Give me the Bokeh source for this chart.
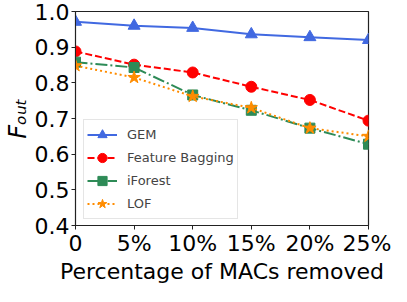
from bokeh.plotting import figure
from bokeh.models import Legend, LegendItem, FixedTicker
from bokeh.embed import file_html
from bokeh.resources import INLINE

x_vals = [0, 5, 10, 15, 20, 25]
x_labels = ["0", "5%", "10%", "15%", "20%", "25%"]
gem = [0.971, 0.960, 0.954, 0.936, 0.928, 0.920]
feature_bagging = [0.888, 0.851, 0.829, 0.789, 0.752, 0.694]
iforest = [0.858, 0.843, 0.766, 0.723, 0.673, 0.628]
lof = [0.848, 0.815, 0.762, 0.730, 0.673, 0.650]
y_ticks = [0.4, 0.5, 0.6, 0.7, 0.8, 0.9, 1.0]
y_title = "F\u2092\u1d64\u209c"

FONT = "DejaVu Sans"

p = figure(width=391, height=286, output_backend="svg", toolbar_location=None,
           x_range=(0, 25), y_range=(0.4, 1.0),
           min_border_left=66, min_border_right=23, min_border_top=11, min_border_bottom=56)

p.xgrid.visible = False
p.ygrid.visible = False
p.outline_line_color = "#222222"
p.outline_line_width = 1.2

for ax in (p.xaxis[0], p.yaxis[0]):
    ax.major_label_text_font = FONT
    ax.major_label_text_font_size = "22px"
    ax.major_label_text_color = "black"
    ax.minor_tick_line_color = None
    ax.major_tick_in = 0
    ax.major_tick_out = 4
    ax.axis_line_color = "#222222"
    ax.major_tick_line_color = "#222222"

p.xaxis.ticker = FixedTicker(ticks=x_vals)
p.xaxis.major_label_overrides = {v: l for v, l in zip(x_vals, x_labels)}
p.yaxis.ticker = FixedTicker(ticks=y_ticks)
p.yaxis.major_label_overrides = {v: f"{v:.1f}" for v in y_ticks}
p.xaxis.major_label_standoff = 1
p.yaxis.major_label_standoff = 2

p.xaxis.axis_label = "Percentage of MACs removed"
p.xaxis.axis_label_text_font = FONT
p.xaxis.axis_label_text_font_size = "22px"
p.xaxis.axis_label_text_font_style = "normal"
p.xaxis.axis_label_text_color = "black"
p.xaxis.axis_label_standoff = 0

p.yaxis.axis_label = y_title
p.yaxis.axis_label_text_font = FONT
p.yaxis.axis_label_text_font_size = "24px"
p.yaxis.axis_label_text_font_style = "italic"
p.yaxis.axis_label_text_color = "black"
p.yaxis.axis_label_standoff = 0

series = [
    ("GEM", gem, "#4169E1", "solid", "triangle", 12),
    ("Feature Bagging", feature_bagging, "#FF0000", "7 3", "circle", 11),
    ("iForest", iforest, "#2E8B57", "12 3 2 3", "square", 10),
    ("LOF", lof, "#FF8C00", "2 3", "star", 13),
]

items = []
for name, ys, col, dash, marker, sz in series:
    r1 = p.line(x_vals, ys, line_color=col, line_width=2, line_dash=dash)
    r2 = p.scatter(x_vals, ys, marker=marker, size=sz, fill_color=col, line_color=col)
    items.append(LegendItem(label=name, renderers=[r1, r2]))

legend = Legend(items=items, location=(8, 6), label_text_font=FONT,
                label_text_font_size="13px", glyph_width=30, glyph_height=23,
                label_standoff=10, spacing=-3, padding=3, margin=0,
                border_line_color="#cccccc", border_line_width=1,
                background_fill_alpha=0.8, label_height=20)
p.add_layout(legend, "center")

open("out.html", "w").write(file_html(p, INLINE))
